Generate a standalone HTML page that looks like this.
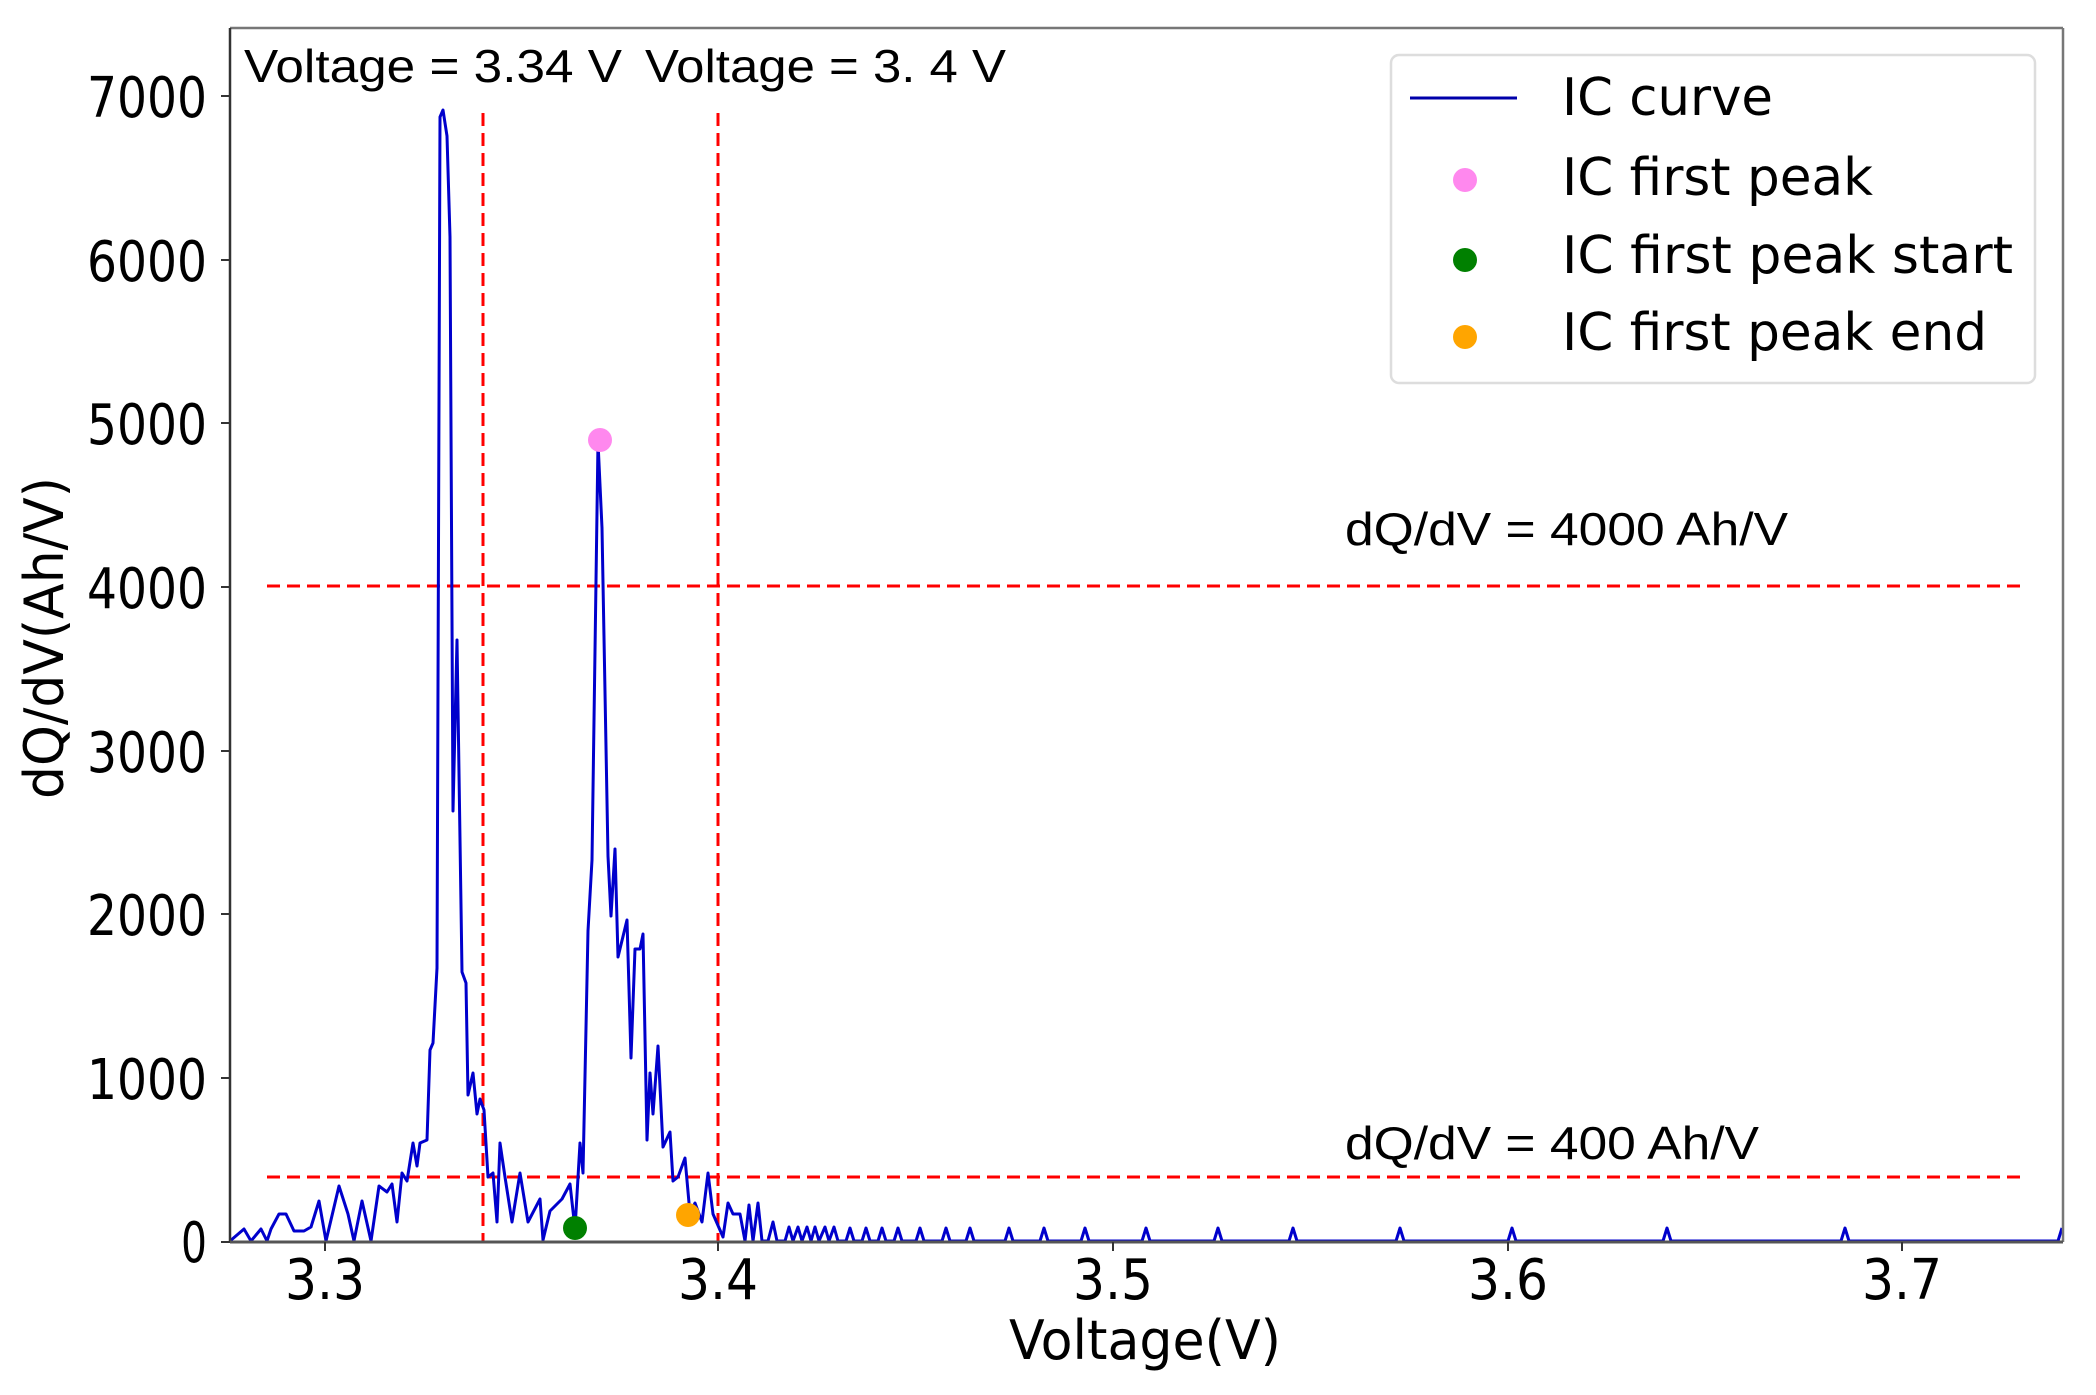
<!DOCTYPE html>
<html><head><meta charset="utf-8"><style>html,body{margin:0;padding:0;background:#fff}svg{display:block}</style></head>
<body>
<svg width="2096" height="1395" viewBox="0 0 2096 1395" xmlns="http://www.w3.org/2000/svg" font-family="DejaVu Sans, sans-serif">
<rect width="2096" height="1395" fill="#fff"/>
<g stroke="#ff0000" stroke-width="3" stroke-dasharray="13,7" fill="none">
<line x1="267" y1="586" x2="2021" y2="586"/>
<line x1="267" y1="1177" x2="2021" y2="1177"/>
<line x1="483" y1="113" x2="483" y2="1242"/>
<line x1="718" y1="113" x2="718" y2="1242"/>
</g>
<polyline fill="none" stroke="#0000cc" stroke-width="3" stroke-linejoin="round" points="
230,1241 244,1229 251,1241 261,1229 267,1241 271,1229 279,1214 286,1214 294,1231 304,1231 311,1227 319,1201 326,1241 339,1186 348,1214 354,1241 362,1201 371,1241 379,1186
387,1192 392,1184 397,1222 402,1173 407,1181 413,1143 417,1166 420,1143 427,1140 430,1050 433,1043 437,968 440,117 443,110 447,136 450,237 453,811 457,640 462,972 466,983 468,1095 473,1073 477,1114 480,1099 484,1110 488,1177 493,1173 497,1222 500,1143 505,1177 512,1222 520,1173 528,1222 540,1199 543,1240 550,1211 562,1199 570,1184 575,1229 580,1143 583,1173 588,931 592,860 598,442 602,528 608,856 611,916 615,849 618,957 627,920 631,1058 635,949 640,949 643,934 647,1140 650,1073 653,1114 658,1046 663,1147 670,1132 673,1181 678,1177 685,1158 690,1214 695,1203 702,1222 708,1173 713,1214 723,1237 728,1203 733,1214 740,1214
745,1241 749,1205 753,1241 758,1203 762,1241 768,1241 773,1222 777,1241 785,1241 789,1227 793,1241 798,1227 802,1241 807,1227 811,1241 815,1227 819,1241 825,1227 829,1241 834,1227 838,1241 846,1241 850,1228 854,1241 862,1241 866,1228 870,1241 878,1241 882,1228 886,1241 894,1241 898,1228 902,1241 916,1241 920,1228 924,1241 942,1241 946,1228 950,1241 966,1241 970,1228 974,1241 1005,1241 1009,1228 1013,1241 1040,1241 1044,1228 1048,1241 1081,1241 1085,1228 1089,1241 1142,1241 1146,1228 1150,1241 1214,1241 1218,1228 1222,1241 1289,1241 1293,1228 1297,1241 1396,1241 1400,1228 1404,1241 1508,1241 1512,1228 1516,1241 1663,1241 1667,1228 1671,1241 1841,1241 1845,1228 1849,1241 2058,1241 2062,1228"/>
<ellipse cx="600" cy="440" rx="12" ry="12" fill="#ff88ee"/>
<ellipse cx="575" cy="1228" rx="12" ry="12" fill="#008000"/>
<ellipse cx="688" cy="1215" rx="12" ry="12" fill="#ffa500"/>
<g stroke="#555" stroke-width="2.5" fill="none">
<line x1="230" y1="28" x2="2063" y2="28" stroke="#777"/>
<line x1="2063" y1="28" x2="2063" y2="1242" stroke="#777"/>
<line x1="230" y1="28" x2="230" y2="1242" stroke="#333"/>
<line x1="230" y1="1242" x2="2063" y2="1242" stroke="#555" stroke-width="3"/>
</g>
<g stroke="#333" stroke-width="2">
<line x1="221" y1="96" x2="230" y2="96"/><line x1="221" y1="260" x2="230" y2="260"/><line x1="221" y1="423" x2="230" y2="423"/><line x1="221" y1="587" x2="230" y2="587"/><line x1="221" y1="751" x2="230" y2="751"/><line x1="221" y1="914" x2="230" y2="914"/><line x1="221" y1="1078" x2="230" y2="1078"/><line x1="221" y1="1242" x2="230" y2="1242"/>
<line x1="325" y1="1242" x2="325" y2="1251"/><line x1="718" y1="1242" x2="718" y2="1251"/><line x1="1113" y1="1242" x2="1113" y2="1251"/><line x1="1508" y1="1242" x2="1508" y2="1251"/><line x1="1902" y1="1242" x2="1902" y2="1251"/>
</g>
<g font-size="56" fill="#000" text-anchor="end">
<text x="207" y="117" textLength="120" lengthAdjust="spacingAndGlyphs">7000</text>
<text x="207" y="281" textLength="120" lengthAdjust="spacingAndGlyphs">6000</text>
<text x="207" y="444" textLength="120" lengthAdjust="spacingAndGlyphs">5000</text>
<text x="207" y="608" textLength="120" lengthAdjust="spacingAndGlyphs">4000</text>
<text x="207" y="772" textLength="120" lengthAdjust="spacingAndGlyphs">3000</text>
<text x="207" y="935" textLength="120" lengthAdjust="spacingAndGlyphs">2000</text>
<text x="207" y="1099" textLength="120" lengthAdjust="spacingAndGlyphs">1000</text>
<text x="207" y="1262" textLength="26" lengthAdjust="spacingAndGlyphs">0</text>
</g>
<g font-size="56" fill="#000" text-anchor="middle">
<text x="325" y="1299" textLength="80" lengthAdjust="spacingAndGlyphs">3.3</text>
<text x="718" y="1299" textLength="80" lengthAdjust="spacingAndGlyphs">3.4</text>
<text x="1113" y="1299" textLength="80" lengthAdjust="spacingAndGlyphs">3.5</text>
<text x="1508" y="1299" textLength="80" lengthAdjust="spacingAndGlyphs">3.6</text>
<text x="1902" y="1299" textLength="80" lengthAdjust="spacingAndGlyphs">3.7</text>
</g>
<text x="1009" y="1359" font-size="54" textLength="272" lengthAdjust="spacingAndGlyphs">Voltage(V)</text>
<text transform="translate(63,799) rotate(-90)" font-size="54" textLength="322" lengthAdjust="spacingAndGlyphs">dQ/dV(Ah/V)</text>
<g font-family="Liberation Sans, sans-serif" font-size="46" fill="#000">
<text x="244" y="82" textLength="378" lengthAdjust="spacingAndGlyphs">Voltage = 3.34 V</text>
<text x="645" y="82" textLength="361" lengthAdjust="spacingAndGlyphs">Voltage = 3. 4 V</text>
<text x="1345" y="545" textLength="443" lengthAdjust="spacingAndGlyphs">dQ/dV = 4000 Ah/V</text>
<text x="1345" y="1159" textLength="414" lengthAdjust="spacingAndGlyphs">dQ/dV = 400 Ah/V</text>
</g>
<rect x="1391" y="55" width="644" height="328" rx="8" fill="#fff" stroke="#ddd" stroke-width="2.5"/>
<line x1="1410" y1="98" x2="1517" y2="98" stroke="#0000aa" stroke-width="3"/>
<ellipse cx="1465" cy="180" rx="12" ry="12" fill="#ff88ee"/>
<ellipse cx="1465" cy="260" rx="12" ry="12" fill="#008000"/>
<ellipse cx="1465" cy="337" rx="12" ry="12" fill="#ffa500"/>
<g font-size="52" fill="#000">
<text x="1562" y="115" textLength="211" lengthAdjust="spacingAndGlyphs">IC curve</text>
<text x="1562" y="195" textLength="311" lengthAdjust="spacingAndGlyphs">IC first peak</text>
<text x="1562" y="273" textLength="451" lengthAdjust="spacingAndGlyphs">IC first peak start</text>
<text x="1562" y="350" textLength="425" lengthAdjust="spacingAndGlyphs">IC first peak end</text>
</g>
</svg>
</body></html>
